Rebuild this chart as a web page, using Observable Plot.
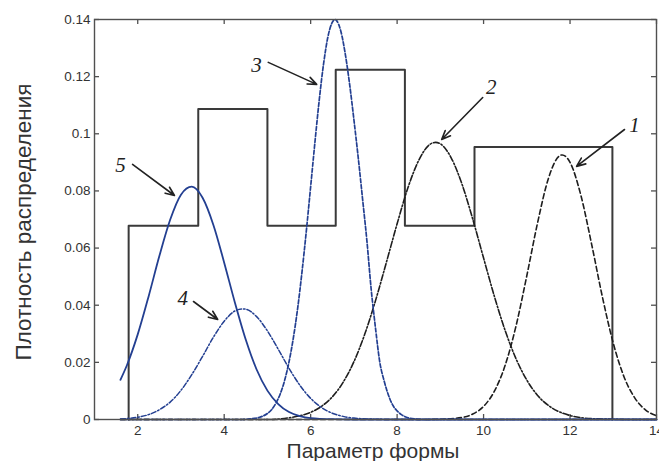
<!DOCTYPE html>
<html>
<head>
<meta charset="utf-8">
<script src="https://cdn.jsdelivr.net/npm/d3@7"></script>
<script src="https://cdn.jsdelivr.net/npm/@observablehq/plot@0.6"></script>
<style>
  html, body { margin: 0; padding: 0; background: #fff; }
  #chart { width: 659px; height: 461px; overflow: hidden; }
</style>
</head>
<body>
<div id="chart"></div>
<script>
// Axis ticks
const xTicks = [2, 4, 6, 8, 10, 12, 14];
const yTicks = [0, 0.02, 0.04, 0.06, 0.08, 0.1, 0.12, 0.14];

// Histogram (bin edges and densities)
const binEdges = [1.79, 3.4, 5.0, 6.58, 8.18, 9.79, 11.4, 12.98];
const binHeights = [0.0678, 0.1087, 0.0678, 0.1224, 0.0678, 0.0954, 0.0954];

// Curve 1 (black dashed)
const curve1X = [1.6, 8.5, 9.0, 9.5, 9.75, 10.0, 10.25, 10.5, 10.75, 11.0, 11.25, 11.5, 11.75, 11.82, 12.0, 12.25, 12.5, 12.75, 13.0, 13.25, 13.5, 13.75, 14.0];
const curve1Y = [0, 0, 0.0001, 0.0007, 0.0019, 0.0046, 0.0099, 0.0190, 0.0327, 0.0503, 0.0689, 0.0844, 0.0922, 0.0926, 0.0900, 0.0785, 0.0613, 0.0428, 0.0267, 0.0149, 0.0075, 0.0033, 0.0013];

// Curve 2 (black dash-dot)
const curve2X = [1.6, 5.0, 5.5, 5.75, 6.0, 6.25, 6.5, 6.75, 7.0, 7.25, 7.5, 7.75, 8.0, 8.25, 8.5, 8.75, 8.89, 9.0, 9.25, 9.5, 9.75, 10.0, 10.25, 10.5, 10.75, 11.0, 11.25, 11.5, 11.75, 12.0, 12.5, 13.0, 13.5, 14.0];
const curve2Y = [0, 0, 0.0006, 0.0013, 0.0025, 0.0046, 0.0079, 0.0130, 0.0202, 0.0298, 0.0416, 0.0549, 0.0685, 0.0811, 0.0907, 0.0962, 0.0970, 0.0965, 0.0916, 0.0824, 0.0701, 0.0565, 0.0431, 0.0311, 0.0213, 0.0138, 0.0084, 0.0049, 0.0027, 0.0014, 0.0003, 0.0001, 0, 0];

// Curve 3 (blue dashed)
const curve3X = [1.6, 4.4, 4.6, 4.8, 5.0, 5.1, 5.2, 5.3, 5.4, 5.5, 5.6, 5.7, 5.8, 5.9, 6.0, 6.1, 6.2, 6.3, 6.4, 6.5, 6.56, 6.6, 6.7, 6.8, 6.9, 7.0, 7.1, 7.2, 7.3, 7.4, 7.5, 7.6, 7.7, 7.8, 7.9, 8.0, 8.1, 8.2, 8.4, 8.6, 14.0];
const curve3Y = [0, 0, 0.0002, 0.0007, 0.0021, 0.0035, 0.0058, 0.0091, 0.0138, 0.0202, 0.0286, 0.0390, 0.0517, 0.0660, 0.0815, 0.0972, 0.1120, 0.1246, 0.1340, 0.1390, 0.1400, 0.1396, 0.1358, 0.1280, 0.1175, 0.1050, 0.0917, 0.0773, 0.0627, 0.0456, 0.0320, 0.0200, 0.0135, 0.0085, 0.0050, 0.0030, 0.0017, 0.0009, 0.0002, 0, 0];

// Curve 4 (blue dash-dot)
const curve4X = [1.6, 2.0, 2.25, 2.5, 2.75, 3.0, 3.25, 3.5, 3.75, 4.0, 4.25, 4.42, 4.5, 4.75, 5.0, 5.25, 5.5, 5.75, 6.0, 6.25, 6.5, 6.75, 7.0, 7.5, 8.0, 14.0];
const curve4Y = [0.0002, 0.0008, 0.0017, 0.0034, 0.0061, 0.0102, 0.0157, 0.0221, 0.0288, 0.0344, 0.0380, 0.0387, 0.0386, 0.0360, 0.0310, 0.0246, 0.0179, 0.0120, 0.0074, 0.0042, 0.0022, 0.0011, 0.0005, 0.0001, 0, 0];

// Curve 5 (blue solid)
const curve5X = [1.6, 1.75, 2.0, 2.25, 2.5, 2.75, 3.0, 3.25, 3.5, 3.75, 4.0, 4.25, 4.5, 4.75, 5.0, 5.25, 5.5, 5.75, 6.0, 6.5, 7.0, 14.0];
const curve5Y = [0.0139, 0.0190, 0.0298, 0.0430, 0.0572, 0.0699, 0.0787, 0.0815, 0.0776, 0.0681, 0.0549, 0.0408, 0.0279, 0.0175, 0.0101, 0.0054, 0.0026, 0.0012, 0.0005, 0.0001, 0, 0];

// Curve labels and arrow anchors (data coordinates)
const labelText = ["1", "2", "3", "4", "5"];
const labelX = [13.49, 10.18, 4.75, 3.04, 1.60];
const labelY = [0.1029, 0.1162, 0.1239, 0.0424, 0.0889];
const arrowX1 = [13.26, 9.98, 5.02, 3.29, 1.88];
const arrowY1 = [0.1015, 0.1127, 0.1250, 0.0413, 0.0893];
const arrowX2 = [12.15, 9.03, 6.14, 3.85, 2.85];
const arrowY2 = [0.0886, 0.0980, 0.1173, 0.0350, 0.0784];

const xLabel = "Параметр формы";
const yLabel = "Плотность распределения";

// Build tables for the library
const histPoints = [{x: binEdges[0], y: 0}].concat(
  binEdges.map((e, i) => ({x: e, y: i < binHeights.length ? binHeights[i] : 0}))
);
const labels = labelText.map((t, i) => ({t, x: labelX[i], y: labelY[i]}));
const arrows = labelText.map((t, i) => ({x1: arrowX1[i], y1: arrowY1[i], x2: arrowX2[i], y2: arrowY2[i]}));

const blue = "#233f91";
const black = "#1e1e1e";
const frameColor = "#505050";

const svg = Plot.plot({
  width: 659,
  height: 461,
  marginLeft: 94,
  marginRight: 3,
  marginTop: 19,
  marginBottom: 42,
  style: {fontFamily: "'Liberation Sans', Arial, sans-serif", fontSize: "13.5px", color: "#333", background: "#fff"},
  x: {domain: [1, 14], label: null},
  y: {domain: [0, 0.14], label: null},
  marks: [
    Plot.axisX({ticks: xTicks, tickSize: 0, tickPadding: 6, label: null, fontSize: 13.5, tickFormat: d => String(d)}),
    Plot.axisY({ticks: yTicks, tickSize: 0, tickPadding: 4, label: null, fontSize: 13.5, tickFormat: d => String(d)}),
    // inward ticks (MATLAB style box)
    Plot.ruleX(xTicks, {x: d => d, insetTop: 395, stroke: frameColor, strokeWidth: 1.3}),
    Plot.ruleX(xTicks, {x: d => d, insetBottom: 395, stroke: frameColor, strokeWidth: 1.3}),
    Plot.ruleY(yTicks, {y: d => d, insetRight: 557, stroke: frameColor, strokeWidth: 1.3}),
    Plot.ruleY(yTicks, {y: d => d, insetLeft: 557, stroke: frameColor, strokeWidth: 1.3}),
    // histogram
    Plot.line(histPoints, {x: "x", y: "y", curve: "step-after", stroke: "#3a3a3a", strokeWidth: 2}),
    // curves
    Plot.line(curve1Y, {x: curve1X, y: curve1Y, curve: "monotone-x", stroke: black, strokeWidth: 1.6, strokeDasharray: "5,3"}),
    Plot.line(curve2Y, {x: curve2X, y: curve2Y, curve: "monotone-x", stroke: black, strokeWidth: 1.6, strokeDasharray: "6,2,1.5,2"}),
    Plot.line(curve3Y, {x: curve3X, y: curve3Y, curve: "monotone-x", stroke: blue, strokeWidth: 1.7, strokeDasharray: "4,2"}),
    Plot.line(curve4Y, {x: curve4X, y: curve4Y, curve: "monotone-x", stroke: blue, strokeWidth: 1.5, strokeDasharray: "5,2,1.5,2"}),
    Plot.line(curve5Y, {x: curve5X, y: curve5Y, curve: "monotone-x", stroke: blue, strokeWidth: 1.8}),
    // frame
    Plot.frame({stroke: frameColor, strokeWidth: 1.4}),
    // annotations
    Plot.arrow(arrows, {x1: "x1", y1: "y1", x2: "x2", y2: "y2", stroke: "#222", strokeWidth: 1.6, headLength: 9, headAngle: 45}),
    Plot.text(labels, {x: "x", y: "y", text: "t", fontStyle: "italic", fontFamily: "'Liberation Serif', 'DejaVu Serif', serif", fontSize: 21, fill: "#222"})
  ]
});

const s = d3.select(svg);
s.append("text")
  .attr("x", 373).attr("y", 457.5)
  .attr("text-anchor", "middle")
  .attr("font-family", "'Liberation Sans', Arial, sans-serif")
  .attr("font-size", 21)
  .attr("fill", "#333")
  .text(xLabel);
s.append("text")
  .attr("transform", "translate(31,222) rotate(-90)")
  .attr("text-anchor", "middle")
  .attr("font-family", "'Liberation Sans', Arial, sans-serif")
  .attr("font-size", 22.5)
  .attr("fill", "#333")
  .text(yLabel);

document.getElementById("chart").appendChild(svg);
</script>
</body>
</html>
